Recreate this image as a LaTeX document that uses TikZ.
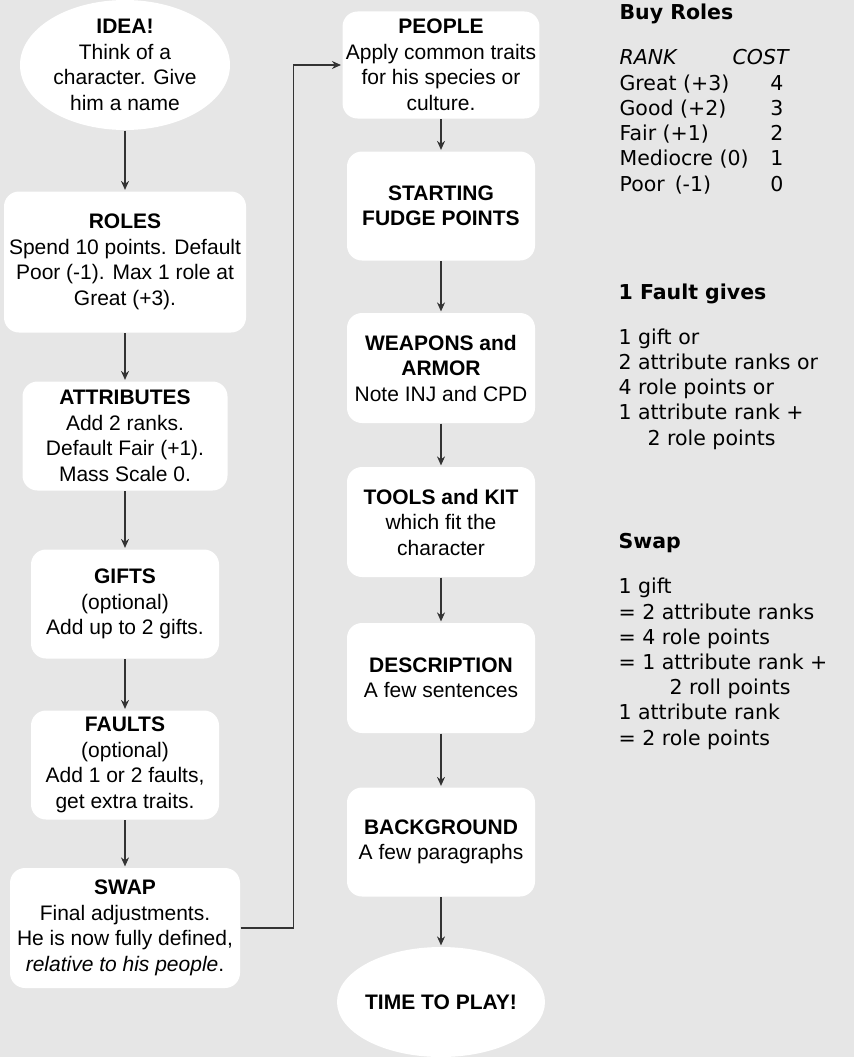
\documentclass[tikz,border=0pt]{standalone}
\usepackage{fontspec}
\setmainfont{Liberation Sans}
\newfontfamily\notefam{DejaVu Sans}
\usetikzlibrary{arrows.meta,shapes.geometric,positioning}

\definecolor{bggray}{HTML}{E6E6E6}
\definecolor{linegray}{HTML}{333333}
\newcommand{\boxfnt}{\fontsize{21}{25.5}\selectfont}
\newcommand{\notefnt}{\notefam\fontsize{20.5}{25.2}\selectfont}

\begin{document}
\begin{tikzpicture}[->,>={Stealth[length=9pt,width=8pt]},shorten >=1pt,x=1pt,y=-1pt,line width=1.2pt,color=linegray,
    stepbox/.style={rectangle, rounded corners=15pt, fill=white, text=black, align=center, font=\boxfnt},
    ovalbox/.style={ellipse, fill=white, text=black, align=center, font=\boxfnt, inner sep=-8pt},
    note/.style={anchor=base west, align=left, inner sep=0pt, text=black, font=\notefnt}]

    % 背景
    \path[fill=bggray] (0,0) rectangle (854,1057);
    \useasboundingbox (0,0) rectangle (854,1057);

    % 左列节点
    \node[ovalbox, minimum width=210, minimum height=130] (idea) at (125,65) {\textbf{IDEA!}\\Think of a\\character. Give\\him a name};
    \node[stepbox, minimum width=242, minimum height=141] (roles) at (125,262) {\textbf{ROLES}\\Spend 10 points. Default\\Poor (-1). Max 1 role at\\Great (+3).};
    \node[stepbox, minimum width=205, minimum height=109] (attr) at (125,436) {\textbf{ATTRIBUTES}\\Add 2 ranks.\\Default Fair (+1).\\Mass Scale 0.};
    \node[stepbox, minimum width=188, minimum height=109] (gifts) at (125,604) {\textbf{GIFTS}\\(optional)\\Add up to 2 gifts.};
    \node[stepbox, minimum width=188, minimum height=109] (faults) at (125,765) {\textbf{FAULTS}\\(optional)\\Add 1 or 2 faults,\\get extra traits.};
    \node[stepbox, minimum width=230, minimum height=120] (swap) at (125,928) {\textbf{SWAP}\\Final adjustments.\\He is now fully defined,\\\textit{relative to his people}.};

    % 中列节点
    \node[stepbox, minimum width=196, minimum height=107] (people) at (441,65) {\textbf{PEOPLE}\\Apply common traits\\for his species or\\culture.};
    \node[stepbox, minimum width=188, minimum height=109] (fudge) at (441,206) {\textbf{STARTING}\\\textbf{FUDGE POINTS}};
    \node[stepbox, minimum width=188, minimum height=110] (weapons) at (441,368) {\textbf{WEAPONS and}\\\textbf{ARMOR}\\Note INJ and CPD};
    \node[stepbox, minimum width=188, minimum height=110] (tools) at (441,522) {\textbf{TOOLS and KIT}\\which fit the\\character};
    \node[stepbox, minimum width=188, minimum height=110] (descr) at (441,678) {\textbf{DESCRIPTION}\\A few sentences};
    \node[stepbox, minimum width=188, minimum height=109] (backgr) at (441,842) {\textbf{BACKGROUND}\\A few paragraphs};
    \node[ovalbox, minimum width=208, minimum height=110] (play) at (441,1002) {\textbf{TIME TO PLAY!}};

    % 右侧说明 (多行节点以最后一行为基线)
    \node[note] (buyhead) at (619,20) {\textbf{Buy Roles}};
    \node[note] (rankhead) at (619,65) {\textit{RANK}};
    \node[note] (costhead) at (732,65) {\textit{COST}};
    \node[note] (ranks) at (619,191) {Great (+3)\\Good (+2)\\Fair (+1)\\Mediocre (0)\\Poor\hspace{10pt}(-1)};
    \node[note, anchor=base, align=center] (costs) at (777,191) {4\\3\\2\\1\\0};
    \node[note] (faulthead) at (618,299) {\textbf{1 Fault gives}};
    \node[note] (faultlist) at (618,445) {1 gift or\\2 attribute ranks or\\4 role points or\\1 attribute rank +\\\hspace*{29pt}2 role points};
    \node[note] (swaphead) at (618,548) {\textbf{Swap}};
    \node[note] (swaplist) at (618,745) {1 gift\\= 2 attribute ranks\\= 4 role points\\= 1 attribute rank +\\\hspace*{51pt}2 roll points\\1 attribute rank\\= 2 role points};

    % 箭头
    \draw (idea) edge (roles);
    \draw (roles) edge (attr);
    \draw (attr) edge (gifts);
    \draw (gifts) edge (faults);
    \draw (faults) edge (swap);
    \draw (swap.east) -- ++(53,0) |- (people.west);
    \draw (people) edge (fudge);
    \draw (fudge) edge (weapons);
    \draw (weapons) edge (tools);
    \draw (tools) edge (descr);
    \draw (descr) edge (backgr);
    \draw (backgr) edge (play);

\end{tikzpicture}
\end{document}
